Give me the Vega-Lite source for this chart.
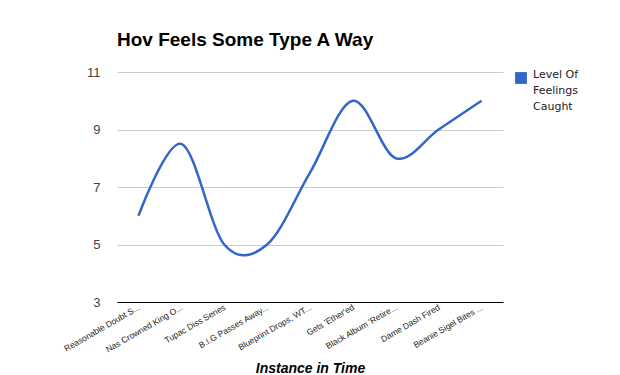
{
  "$schema": "https://vega.github.io/schema/vega-lite/v6.json",
  "autosize": {"type": "none"},
  "width": 386,
  "height": 230,
  "padding": {"left": 117, "top": 72, "right": 117, "bottom": 73},
  "background": "white",
  "title": {
    "text": "Hov Feels Some Type A Way",
    "anchor": "start",
    "frame": "group",
    "font": "Liberation Sans",
    "fontSize": 19,
    "fontWeight": "bold",
    "color": "#000000",
    "offset": 16
  },
  "config": {
    "view": {"stroke": null},
    "font": "Liberation Sans",
    "style": {"guide-label": {"lineHeight": 16}}
  },
  "data": {
    "values": [
      {"event": "Reasonable Doubt S...", "level": 6},
      {"event": "Nas Crowned King O...", "level": 8.5},
      {"event": "Tupac Diss Series", "level": 5},
      {"event": "B.I.G Passes Away...", "level": 5},
      {"event": "Blueprint Drops, WT...", "level": 7.5},
      {"event": "Gets 'Ether'ed", "level": 10},
      {"event": "Black Album 'Retire...", "level": 8},
      {"event": "Dame Dash Fired", "level": 9},
      {"event": "Beanie Sigel Bites ...", "level": 10}
    ]
  },
  "mark": {"type": "line", "interpolate": "cardinal", "strokeWidth": 2.5},
  "encoding": {
    "x": {
      "field": "event",
      "type": "nominal",
      "sort": null,
      "scale": {"type": "point", "padding": 0.5},
      "axis": {
        "title": "Instance in Time",
        "titleFont": "Liberation Sans",
        "titleFontSize": 14,
        "titleFontWeight": "bold",
        "titleFontStyle": "italic",
        "titleColor": "#000000",
        "titlePadding": 8,
        "labelAngle": -30,
        "labelAlign": "right",
        "labelBaseline": "middle",
        "labelFontSize": 8.5,
        "labelColor": "#222222",
        "labelPadding": 4,
        "labelLimit": 200,
        "domainColor": "#000000",
        "domainWidth": 1,
        "ticks": false,
        "grid": false
      }
    },
    "y": {
      "field": "level",
      "type": "quantitative",
      "scale": {"domain": [3, 11], "nice": false, "zero": false},
      "axis": {
        "title": null,
        "values": [3, 5, 7, 9, 11],
        "labelFontSize": 13,
        "labelColor": "#444444",
        "labelPadding": 17,
        "domain": false,
        "ticks": false,
        "gridColor": "#cccccc",
        "gridWidth": 1
      }
    },
    "color": {
      "datum": "Level Of Feelings Caught",
      "type": "nominal",
      "scale": {"range": ["#3366CC"]},
      "legend": {
        "title": null,
        "orient": "right",
        "offset": 12,
        "padding": 0,
        "symbolType": "square",
        "symbolSize": 140,
        "symbolFillColor": "#3366CC",
        "symbolStrokeColor": "#3366CC",
        "symbolStrokeWidth": 0,
        "labelFont": "DejaVu Sans",
        "labelFontSize": 11,
        "labelColor": "#222222",
        "labelOffset": 6,
        "labelBaseline": "alphabetic",
        "labelExpr": "['Level Of', 'Feelings', 'Caught']"
      }
    }
  }
}
